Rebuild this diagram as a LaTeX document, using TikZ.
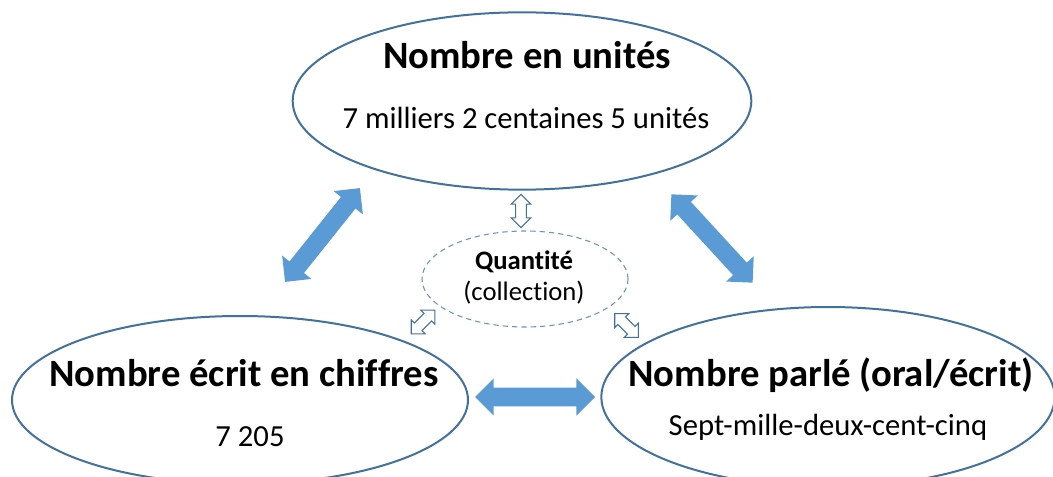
\documentclass[tikz,border=0pt]{standalone}
\usepackage{fontspec}
\setmainfont{Carlito}[Ligatures=NoCommon]
\usetikzlibrary{shapes.geometric, shapes.arrows}
\definecolor{ovalblue}{HTML}{41719C}
\definecolor{arrowblue}{HTML}{5B9BD5}
\definecolor{dashblue}{HTML}{6A93BF}

\begin{document}
\begin{tikzpicture}[x=0.75pt, y=-0.75pt,
  oval/.style={ellipse, draw=ovalblue, line width=1.5pt, inner sep=0pt},
  title/.style={font=\fontsize{29}{34}\selectfont\bfseries},
  sub/.style={font=\fontsize{23}{28}\selectfont},
  bigarrow/.style={double arrow, fill=arrowblue, inner xsep=0pt, inner ysep=6.75pt,
    double arrow head extend=7.1pt, minimum height=90pt, sloped},
  smallarrow/.style={double arrow, draw=ovalblue, fill=white, line width=0.8pt,
    inner xsep=0pt, inner ysep=3.6pt, double arrow head extend=3.4pt,
    minimum height=25pt, sloped}]

\useasboundingbox (0,0) rectangle (1053,477);
\clip (0,0) rectangle (1053,477);

% Ellipses
\node[oval, minimum width=344pt, minimum height=133pt] (units) at (522,101) {};
\node[oval, minimum width=342pt, minimum height=126pt] (digits) at (240,400) {};
\node[oval, minimum width=340pt, minimum height=135pt] (spoken) at (828,397) {};
\node[ellipse, draw=dashblue, line width=0.8pt, dash pattern=on 4pt off 3pt,
  minimum width=154.5pt, minimum height=72pt] (qty) at (525,279) {};

% Texts
\node[title] (unitsT) at (527,55) {Nombre en unités};
\node[sub] (unitsS) at (526,118) {7 milliers 2 centaines 5 unités};
\node[title] (digitsT) at (244,373) {Nombre écrit en chiffres};
\node[sub] (digitsS) at (250,437) {7 205};
\node[title] (spokenT) at (831,375) {Nombre parlé (oral/écrit)};
\node[sub] (spokenS) at (828,427) {Sept-mille-deux-cent-cinq};
\node[font=\fontsize{20}{24}\selectfont\bfseries] (qtyT) at (524,262) {Quantité};
\node[font=\fontsize{20}{24}\selectfont] (qtyS) at (524,293) {(collection)};

% Big arrows
\coordinate (ul) at (360,188);
\coordinate (dl) at (285,282);
\coordinate (ur) at (672,195);
\coordinate (sr) at (752,282);
\coordinate (dh) at (475,397);
\coordinate (sh) at (595,397);
\path (ul) -- (dl) node[bigarrow, midway] (a1) {};
\path (ur) -- (sr) node[bigarrow, midway] (a2) {};
\path (dh) -- (sh) node[bigarrow, midway] (a3) {};

% Small arrows
\coordinate (qt) at (521,195);
\coordinate (qb) at (521,227);
\coordinate (ql) at (409,336);
\coordinate (qm) at (437,308);
\coordinate (qr) at (613,312);
\coordinate (qs) at (640,339);
\path (qt) -- (qb) node[smallarrow, midway] (b1) {};
\path (ql) -- (qm) node[smallarrow, midway] (b2) {};
\path (qr) -- (qs) node[smallarrow, midway] (b3) {};

\end{tikzpicture}
\end{document}
